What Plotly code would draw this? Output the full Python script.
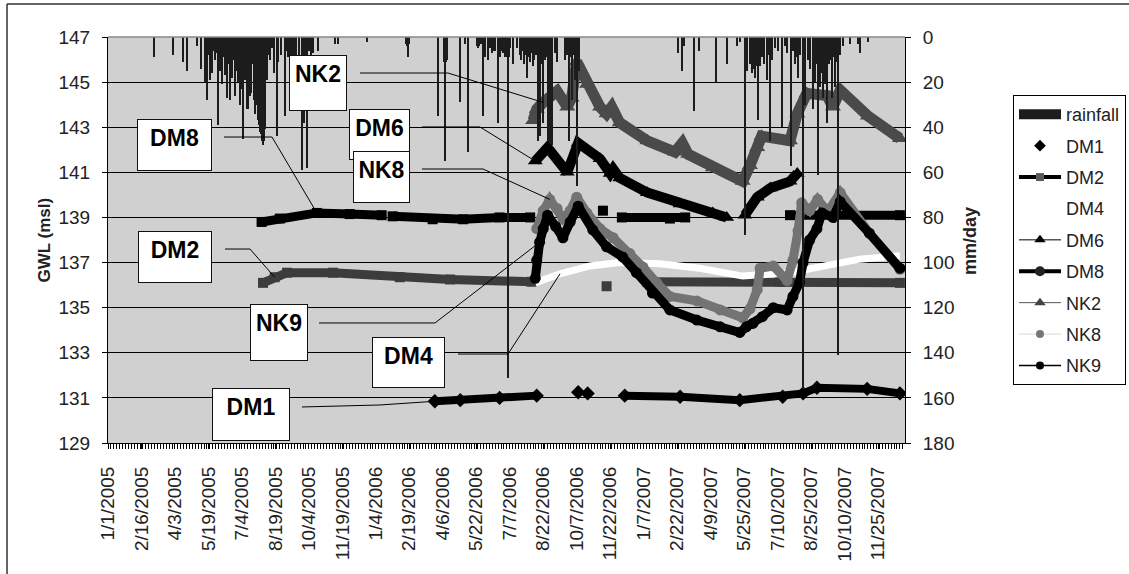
import pandas as pd
import plotly.graph_objects as go

# ---------------- data ----------------
tick_labels = ['1/1/2005', '2/16/2005', '4/3/2005', '5/19/2005', '7/4/2005', '8/19/2005',
               '10/4/2005', '11/19/2005', '1/4/2006', '2/19/2006', '4/6/2006', '5/22/2006',
               '7/7/2006', '8/22/2006', '10/7/2006', '11/22/2006', '1/7/2007', '2/22/2007',
               '4/9/2007', '5/25/2007', '7/10/2007', '8/25/2007', '10/10/2007', '11/25/2007']

# daily rainfall (mm/day), day-of-year index (0 = Jan 1) per year
rain_2005_doy = [63, 89, 103, 108, 122, 128, 133, 136, 138, 140, 143, 145, 147, 149, 151, 154, 156, 158,
                 161, 163, 165, 168, 170, 172, 174, 177, 179, 181, 183, 184, 185, 187, 188, 190, 191, 192,
                 194, 195, 197, 199, 200, 202, 203, 205, 206, 207, 209, 210, 211, 213, 214, 216, 218, 220,
                 223, 225, 228, 232, 234, 238, 243, 245, 247, 250, 253, 256, 258, 262, 266, 268, 269, 271,
                 272, 273, 276, 279, 282, 288, 312, 316, 356]
rain_2005_mm = [9, 8, 11, 15, 4, 14, 20, 28, 8, 19, 16, 6, 10, 7, 39, 15, 21, 9,
                17, 27, 12, 28, 18, 10, 26, 15, 20, 30, 12, 23, 45, 14, 19, 10, 32, 32,
                15, 26, 25, 12, 28, 34, 30, 18, 37, 39, 42, 43, 46, 48, 46, 41, 19, 8,
                10, 5, 16, 44, 11, 8, 35, 6, 9, 15, 18, 10, 12, 17, 59, 9, 38, 7,
                19, 58, 6, 8, 7, 6, 3, 3, 2]
rain_2006_doy = [45, 46, 47, 48, 89, 97, 98, 99, 101, 119, 125, 130, 142, 143, 145, 147, 150, 153, 157,
                 160, 162, 164, 167, 171, 174, 176, 178, 180, 182, 184, 186, 188, 191, 197, 201, 203,
                 205, 207, 209, 211, 213, 215, 217, 219, 221, 223, 226, 228, 231, 233, 235, 237, 240,
                 242, 245, 249, 252, 263, 266, 268, 270, 272, 274, 276, 278, 280, 282]
rain_2006_mm = [3, 4, 9, 3, 35, 11, 55, 11, 10, 29, 3, 51, 4, 5, 4, 3, 35, 9, 10,
                5, 7, 6, 6, 38, 9, 6, 7, 9, 9, 151, 9, 5, 12, 5, 8, 10,
                6, 12, 8, 18, 9, 11, 7, 13, 10, 8, 46, 44, 12, 38, 10, 9, 46,
                47, 48, 7, 11, 10, 8, 46, 9, 28, 8, 19, 8, 66, 15]
rain_2007_doy = [53, 58, 61, 75, 82, 105, 120, 134, 138, 145, 148, 152, 155, 157, 159, 161, 163, 166,
                 168, 171, 175, 177, 180, 183, 186, 190, 196, 200, 203, 208, 211, 214, 216, 218, 221,
                 225, 228, 232, 235, 238, 241, 243, 245, 248, 250, 251, 252, 254, 255, 257, 258, 260,
                 262, 265, 267, 269, 271, 273, 276, 280, 289, 300, 303, 314]
rain_2007_mm = [7, 15, 4, 33, 6, 20, 12, 4, 2, 88, 15, 12, 16, 14, 18, 13, 37, 13,
                9, 12, 19, 8, 46, 10, 5, 6, 40, 4, 7, 57, 6, 12, 9, 18, 8,
                156, 30, 10, 14, 32, 20, 12, 61, 22, 9, 16, 27, 12, 21, 15, 38, 12,
                10, 27, 9, 22, 11, 141, 8, 4, 3, 3, 7, 2]

# groundwater levels (m msl); None = no record
dm1_dates = ['2006-03-26', '2006-04-30', '2006-06-23', '2006-08-13', '2006-09-20', '2006-10-09',
             '2006-10-15', '2006-10-22', '2006-11-20', '2006-12-12', '2007-02-26', '2007-05-19',
             '2007-07-17', '2007-08-14', '2007-09-02', '2007-11-10', '2007-12-25']
dm1_gwl = [130.85, 130.9, 131.0, 131.1, None, 131.25, None, 131.2, None, 131.1, 131.05, 130.9,
           131.05, 131.2, 131.45, 131.4, 131.2]

dm2_dates = ['2005-08-02', '2005-08-18', '2005-09-04', '2005-11-06', '2006-02-06', '2006-04-16',
             '2006-08-06', '2006-10-01', '2006-11-17', '2006-12-20', '2007-01-12', '2007-07-13',
             '2007-12-25']
dm2_gwl = [136.1, 136.35, 136.55, 136.55, 136.35, 136.25, 136.15, None, 135.95, None, 136.15, 136.15,
           136.1]

dm4_dates = ['2006-08-11', '2006-09-14', '2006-10-25', '2006-12-05', '2007-01-29', '2007-03-25',
             '2007-05-23', '2007-07-27', '2007-09-20', '2007-10-31', '2007-12-25']
dm4_gwl = [136.1, 136.5, 136.85, 137.0, 136.95, 136.75, 136.4, 136.55, 136.9, 137.15, 137.3]

dm6_dates = ['2006-08-11', '2006-08-28', '2006-09-24', '2006-10-09', '2006-11-08', '2006-11-22',
             '2006-11-26', '2006-12-05', '2007-01-12', '2007-02-26', '2007-04-12', '2007-05-01',
             '2007-05-12', '2007-05-26', '2007-06-12', '2007-06-30', '2007-07-27', '2007-08-06']
dm6_gwl = [141.5, 142.1, 141.0, 142.3, 141.6, 140.95, 141.15, 140.75, 140.1, 139.6, 139.2, 139.0,
           None, 139.1, 139.9, 140.3, 140.6, 140.95]

dm8_dates = ['2005-07-31', '2005-08-25', '2005-10-15', '2005-11-29', '2006-01-12', '2006-01-20',
             '2006-01-27', '2006-03-23', '2006-05-04', '2006-06-23', '2006-08-04', '2006-09-20',
             '2006-11-12', '2006-11-25', '2006-12-08', '2007-02-12', '2007-03-05', '2007-05-15',
             '2007-07-27', '2007-12-25']
dm8_gwl = [138.8, 138.95, 139.2, 139.15, 139.1, None, 139.05, 138.92, 138.92, 139.0, 139.0, None,
           139.3, None, 139.0, 138.95, 139.0, None, 139.1, 139.1]

nk2_dates = ['2006-08-08', '2006-08-13', '2006-08-22', '2006-09-10', '2006-09-24', '2006-09-30',
             '2006-10-07', '2006-10-21', '2006-11-08', '2006-11-17', '2006-11-24', '2006-12-05',
             '2007-01-12', '2007-02-19', '2007-03-01', '2007-03-09', '2007-04-12', '2007-05-23',
             '2007-06-02', '2007-06-12', '2007-06-18', '2007-07-27', '2007-08-06', '2007-08-19',
             '2007-09-16', '2007-09-24', '2007-10-04', '2007-11-11', '2007-12-25']
nk2_gwl = [143.3, 143.8, 144.1, 144.6, 143.9, 144.3, 145.9, 144.9, 143.9, 143.6, 143.9, 143.2,
           142.4, 141.9, 142.3, 141.8, 141.2, 140.6, 141.3, 142.1, 142.6, 142.4, 143.6, 144.5,
           144.4, 143.9, 144.65, 143.5, 142.5]

nk8_dates = ['2006-08-13', '2006-08-22', '2006-08-31', '2006-09-10', '2006-09-18', '2006-09-28',
             '2006-10-07', '2006-10-21', '2006-11-08', '2006-11-26', '2006-12-19', '2007-01-06',
             '2007-01-25', '2007-02-12', '2007-03-21', '2007-04-22', '2007-05-23', '2007-06-02',
             '2007-06-12', '2007-06-16', '2007-07-04', '2007-07-23', '2007-07-31', '2007-08-07',
             '2007-08-12', '2007-08-23', '2007-09-03', '2007-09-17', '2007-10-04', '2007-11-13',
             '2007-12-25']
nk8_gwl = [138.5, 139.3, 139.8, 139.4, 138.95, 139.3, 139.9, 139.2, 138.5, 138.1, 137.4, 136.8,
           136.1, 135.5, 135.3, 134.9, 134.55, 134.95, 135.8, 136.75, 136.85, 136.2, 137.1, 138.4,
           139.65, 139.3, 139.8, 139.25, 140.1, 138.3, 136.7]

nk9_dates = ['2006-08-11', '2006-08-13', '2006-08-17', '2006-08-22', '2006-08-28', '2006-09-08',
             '2006-09-18', '2006-09-28', '2006-10-09', '2006-10-29', '2006-11-17', '2006-12-09',
             '2006-12-28', '2007-01-19', '2007-02-12', '2007-03-21', '2007-04-22', '2007-05-19',
             '2007-05-28', '2007-06-06', '2007-06-19', '2007-07-04', '2007-07-23', '2007-07-31',
             '2007-08-09', '2007-08-14', '2007-08-23', '2007-09-02', '2007-09-09', '2007-09-24',
             '2007-10-04', '2007-11-13', '2007-12-25']
nk9_gwl = [136.3, 137.1, 137.9, 138.5, 139.1, 138.6, 138.1, 138.8, 139.5, 138.45, 137.7, 137.25,
           136.55, 135.65, 134.9, 134.45, 134.15, 133.9, 134.15, 134.3, 134.6, 135.0, 134.9, 135.5,
           136.1, 137.0, 138.0, 138.5, 139.2, 139.0, 139.7, 138.3, 136.75]

# ---------------- build ----------------
FONT = 'Liberation Sans, Arial, sans-serif'
DAY_MS = 86400000
TICK_FONT = dict(family=FONT, size=19, color='#222222')


def doy_to_dates(year, doys):
    start = pd.Timestamp(year=year, month=1, day=1)
    return [(start + pd.Timedelta(days=int(d))).strftime('%Y-%m-%d') for d in doys]


rain_dates = (doy_to_dates(2005, rain_2005_doy) + doy_to_dates(2006, rain_2006_doy)
              + doy_to_dates(2007, rain_2007_doy))
rain_mm = rain_2005_mm + rain_2006_mm + rain_2007_mm

tickvals = [pd.to_datetime(t, format='%m/%d/%Y').strftime('%Y-%m-%d') for t in tick_labels]

series = {
    'DM1': (dm1_dates, dm1_gwl), 'DM2': (dm2_dates, dm2_gwl), 'DM4': (dm4_dates, dm4_gwl),
    'DM6': (dm6_dates, dm6_gwl), 'DM8': (dm8_dates, dm8_gwl), 'NK2': (nk2_dates, nk2_gwl),
    'NK8': (nk8_dates, nk8_gwl), 'NK9': (nk9_dates, nk9_gwl),
}

# plotted style of each series (dense daily markers rendered as a thick band)
plot_style = {
    'DM1': dict(color='black', width=8, symbol='diamond', size=11, mode='lines+markers'),
    'DM2': dict(color='#3c3c3c', width=9, symbol='square', size=10, mode='lines+markers'),
    'DM4': dict(color='white', width=7, symbol='circle', size=1, mode='lines'),
    'DM6': dict(color='black', width=10, symbol='triangle-up', size=13, mode='lines+markers'),
    'DM8': dict(color='black', width=9, symbol='square', size=10, mode='lines+markers'),
    'NK2': dict(color='#4a4a4a', width=11, symbol='triangle-up', size=14, mode='lines+markers'),
    'NK8': dict(color='#737373', width=9, symbol='circle', size=11, mode='lines+markers'),
    'NK9': dict(color='black', width=9, symbol='circle', size=11, mode='lines+markers'),
}

fig = go.Figure()
for name in ['DM1', 'DM2', 'DM4', 'DM6', 'DM8', 'NK2', 'NK8', 'NK9']:
    d, v = series[name]
    s = plot_style[name]
    fig.add_trace(go.Scatter(
        x=d, y=v, mode=s['mode'], connectgaps=False, showlegend=False, yaxis='y',
        line=dict(color=s['color'], width=s['width']),
        marker=dict(symbol=s['symbol'], size=s['size'], color=s['color'], line=dict(width=0)),
        hoverinfo='skip'))

fig.add_trace(go.Bar(x=rain_dates, y=rain_mm, yaxis='y2', width=1.5 * DAY_MS,
                     marker=dict(color='#1c1c1c', line=dict(width=0)), showlegend=False,
                     hoverinfo='skip'))

# legend entries (styles as in the original legend)
legend_style = [
    ('rainfall', dict(mode='lines', line=dict(color='#1c1c1c', width=11))),
    ('DM1', dict(mode='markers', marker=dict(symbol='diamond', size=9, color='black'))),
    ('DM2', dict(mode='lines+markers', line=dict(color='black', width=4),
                 marker=dict(symbol='square', size=8, color='#5a5a5a'))),
    ('DM4', dict(mode='lines', line=dict(color='white', width=1))),
    ('DM6', dict(mode='lines+markers', line=dict(color='black', width=1),
                 marker=dict(symbol='triangle-up', size=10, color='black'))),
    ('DM8', dict(mode='lines+markers', line=dict(color='black', width=4),
                 marker=dict(symbol='circle', size=10, color='#222222'))),
    ('NK2', dict(mode='lines+markers', line=dict(color='#555555', width=1),
                 marker=dict(symbol='triangle-up', size=10, color='#444444'))),
    ('NK8', dict(mode='lines+markers', line=dict(color='#d6d6d6', width=1),
                 marker=dict(symbol='circle', size=8, color='#777777'))),
    ('NK9', dict(mode='lines+markers', line=dict(color='black', width=1.5),
                 marker=dict(symbol='circle', size=8, color='black'))),
]
for name, st in legend_style:
    fig.add_trace(go.Scatter(x=[None], y=[None], name=name, legendgroup=name, showlegend=True,
                             yaxis='y', **st))

# callout boxes with elbow leader lines, anchored on a series point
callouts = [
    # name, anchor date, box offset (px right, px down), box w,h, leader elbow pts (px right, px up)
    ('NK2', '2006-08-22', (-224.8, -19.9), (58, 56), [(-183.3, 29.4), (-95.3, 29.4)]),
    ('DM8', '2005-10-15', (-142.4, -67.9), (75, 52), [(-92.9, 75.9), (-44.9, 75.9)]),
    ('DM6', '2006-08-11', (-155.8, -26.6), (61, 51), [(-113.3, 34.1), (-55.3, 34.1)]),
    ('NK8', '2006-08-31', (-168.3, -22.4), (57, 52), [(-127.8, 30.4), (-66.8, 30.4)]),
    ('DM2', '2005-08-18', (-99.7, -20.2), (74, 52), [(-49.7, 28.2), (-24.7, 28.2)]),
    ('NK9', '2006-08-17', (-260.6, 90.2), (58, 57), [(-220.6, -80.7), (-104.6, -80.7)]),
    ('DM4', '2006-09-14', (-151.5, 88.7), (73, 51), [(-102.0, -80.2), (-52.0, -80.2)]),
    ('DM1', '2006-03-26', (-183.8, 13.2), (78, 53), [(-132.8, -5.7), (-54.8, -3.7)]),
]

shapes = []
annotations = []
for name, adate, (bx, by), (bw, bh), pts in callouts:
    d, v = series[name]
    yv = v[d.index(adate)]
    path = 'M {:.1f},{:.1f} L {:.1f},{:.1f} L 0,0'.format(pts[0][0], pts[0][1], pts[1][0], pts[1][1])
    shapes.append(dict(type='path', xref='x', yref='y', xsizemode='pixel', ysizemode='pixel',
                       xanchor=adate, yanchor=yv, path=path,
                       line=dict(color='black', width=1), layer='above'))
    annotations.append(dict(
        x=adate, y=yv, xref='x', yref='y', showarrow=True, arrowcolor='rgba(0,0,0,0)',
        ax=bx, ay=by, axref='pixel', ayref='pixel',
        text='<b>' + name + '</b>', font=dict(family=FONT, size=23, color='black'),
        bgcolor='white', bordercolor='#111111', borderwidth=1, borderpad=5,
        width=bw - 12, height=bh - 12, valign='top', align='center'))

# axis titles
annotations.append(dict(x=-0.0797, y=0.5, xref='paper', yref='paper', showarrow=False,
                        xanchor='center', yanchor='middle',
                        text='<b>GWL (msl)</b>', textangle=-90,
                        font=dict(family=FONT, size=17, color='#222222')))
annotations.append(dict(x=1.0816, y=0.4975, xref='paper', yref='paper', showarrow=False,
                        xanchor='center', yanchor='middle',
                        text='<b>mm/day</b>', textangle=-90,
                        font=dict(family=FONT, size=18, color='#222222')))

# chart frame and plot-area top border
shapes.append(dict(type='line', xref='paper', yref='paper', x0=-0.1267, x1=-0.1267, y0=-0.6, y1=1.0813,
                   line=dict(color='#333333', width=1.5)))
shapes.append(dict(type='line', xref='paper', yref='paper', x0=-0.1267, x1=1.5, y0=1.0813, y1=1.0813,
                   line=dict(color='#333333', width=1.5)))
shapes.append(dict(type='line', xref='paper', yref='paper', x0=0, x1=1, y0=1, y1=1,
                   line=dict(color='#8a8a8a', width=1.5), layer='above'))

fig.update_layout(
    width=1129, height=574, autosize=False,
    margin=dict(l=108, r=224, t=37, b=131, pad=0, autoexpand=False),
    paper_bgcolor='white', plot_bgcolor='#d0d0d0',
    font=dict(family=FONT, size=17, color='#222222'),
    bargap=0,
    xaxis=dict(type='date', range=['2005-01-01', '2008-01-01'], tickmode='array',
               tickvals=tickvals, ticktext=tick_labels, tickangle=-90,
               showgrid=False, zeroline=False, showline=True, linecolor='black', linewidth=1,
               ticks='outside', ticklen=5, tickcolor='black', ticklabelstandoff=10,
               tickfont=TICK_FONT, automargin=False,
               minor=dict(ticks='outside', ticklen=5, tickcolor='black', dtick=4 * DAY_MS,
                          tick0='2005-01-01', showgrid=False)),
    yaxis=dict(range=[129, 147], dtick=2, tick0=129, showgrid=True, gridcolor='black', gridwidth=1,
               zeroline=False, showline=True, linecolor='black', linewidth=1,
               ticks='outside', ticklen=5, tickcolor='black', ticklabelstandoff=8,
               tickfont=TICK_FONT, automargin=False),
    yaxis2=dict(overlaying='y', side='right', range=[180, 0], dtick=20, tick0=0, showgrid=False,
                zeroline=False, showline=True, linecolor='black', linewidth=1,
                ticks='outside', ticklen=5, tickcolor='black', ticklabelstandoff=8,
                tickfont=TICK_FONT, automargin=False),
    legend=dict(x=1.1355, xanchor='left', y=0.857, yanchor='top', bordercolor='black',
                borderwidth=1, bgcolor='white', font=dict(family=FONT, size=18, color='#222222'),
                traceorder='grouped', tracegroupgap=5, itemwidth=42),
    shapes=shapes,
    annotations=annotations,
)

fig.write_html(
    'out.html',
    config={'responsive': False, 'displayModeBar': False},
    post_script="document.body.style.margin='0';document.body.style.padding='0';"
                "document.body.style.overflow='hidden';",
)
